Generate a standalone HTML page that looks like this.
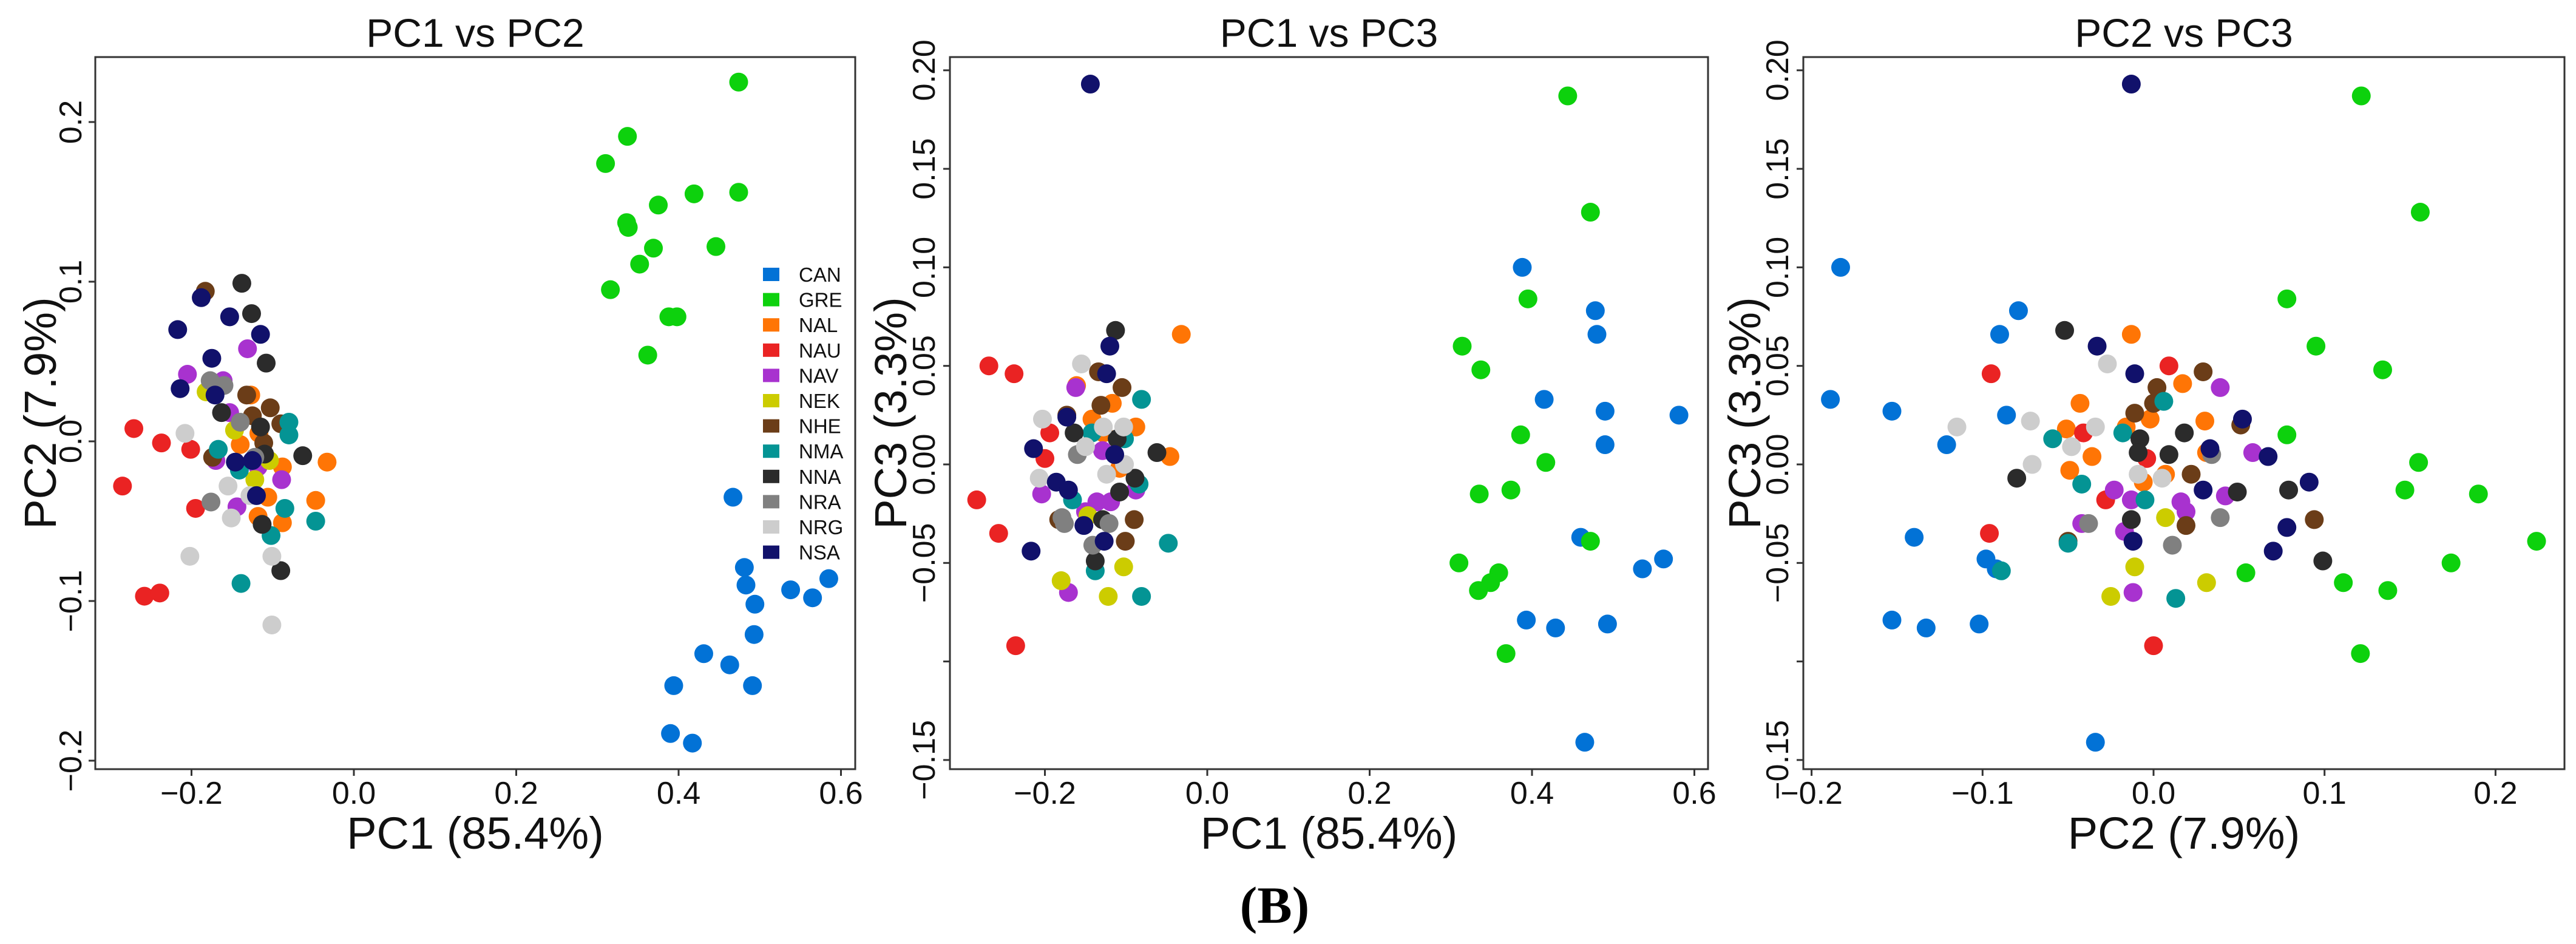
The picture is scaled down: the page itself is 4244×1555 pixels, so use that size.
<!DOCTYPE html>
<html><head><meta charset="utf-8">
<style>
html,body{margin:0;padding:0;background:#fff;}
svg{display:block;font-family:"Liberation Sans",Arial,sans-serif;}
</style></head>
<body>
<svg id="fig" width="4244" height="1555" viewBox="0 0 4244 1555" xmlns="http://www.w3.org/2000/svg">
<rect x="0" y="0" width="4244" height="1555" fill="#fff"/>
<text x="2100" y="1520" font-family="Liberation Serif,serif" font-weight="bold" font-size="86" text-anchor="middle">(B)</text>
</svg>
<script>
const groups = ["CAN","GRE","NAL","NAU","NAV","NEK","NHE","NMA","NNA","NRA","NRG","NSA"];
const groupColors = ["#0272d6","#0dd10d","#ff7505","#ea2323","#a832cf","#cccc00","#6b3d18","#049494","#2b2b2b","#808080","#cdcdcd","#11116b"];

// Panel 1: PC1 vs PC2
const p1x = [
 [0.467,0.481,0.483,0.538,0.565,0.585,0.494,0.493,0.431,0.463,0.394,0.491,0.390,0.417],
 [0.474,0.337,0.310,0.419,0.474,0.375,0.336,0.338,0.369,0.446,0.352,0.316,0.388,0.398,0.362],
 [-0.127,-0.140,-0.088,-0.033,-0.047,-0.106,-0.118,-0.088,-0.117],
 [-0.271,-0.237,-0.201,-0.285,-0.195,-0.258,-0.239],
 [-0.131,-0.205,-0.161,-0.153,-0.089,-0.144,-0.170,-0.118],
 [-0.182,-0.147,-0.122,-0.104],
 [-0.183,-0.132,-0.103,-0.090,-0.174,-0.111,-0.125],
 [-0.080,-0.080,-0.167,-0.141,-0.085,-0.047,-0.102,-0.139],
 [-0.138,-0.126,-0.108,-0.163,-0.115,-0.110,-0.063,-0.113,-0.090],
 [-0.177,-0.160,-0.140,-0.176,-0.122],
 [-0.208,-0.155,-0.151,-0.202,-0.101,-0.101,-0.128],
 [-0.188,-0.217,-0.153,-0.115,-0.175,-0.214,-0.171,-0.146,-0.125,-0.120]
];
const p1y = [
 [-0.035,-0.079,-0.090,-0.093,-0.098,-0.086,-0.102,-0.121,-0.133,-0.140,-0.153,-0.153,-0.183,-0.189],
 [0.225,0.191,0.174,0.155,0.156,0.148,0.137,0.134,0.121,0.122,0.111,0.095,0.078,0.078,0.054],
 [0.029,-0.002,-0.016,-0.013,-0.037,-0.035,-0.047,-0.051,0.005],
 [0.008,-0.001,-0.005,-0.028,-0.042,-0.097,-0.095],
 [0.058,0.042,0.038,0.018,-0.024,-0.041,-0.012,-0.016],
 [0.031,0.007,-0.024,-0.012],
 [0.094,0.029,0.021,0.011,-0.010,-0.001,0.016],
 [0.012,0.004,-0.005,-0.018,-0.042,-0.050,-0.059,-0.089],
 [0.099,0.080,0.049,0.018,0.009,-0.008,-0.009,-0.052,-0.081],
 [0.038,0.035,0.012,-0.038,-0.010],
 [0.005,-0.028,-0.048,-0.072,-0.072,-0.115,-0.034],
 [0.090,0.070,0.078,0.067,0.052,0.033,0.029,-0.013,-0.012,-0.034]
];

// Panel 2: PC1 vs PC3
const p2x = [
 [0.388,0.478,0.480,0.415,0.490,0.581,0.490,0.460,0.562,0.536,0.393,0.429,0.493,0.465],
 [0.444,0.472,0.395,0.314,0.337,0.386,0.417,0.335,0.374,0.472,0.310,0.359,0.349,0.334,0.368],
 [-0.032,-0.161,-0.117,-0.142,-0.088,-0.128,-0.046,-0.108],
 [-0.269,-0.238,-0.194,-0.200,-0.284,-0.257,-0.236],
 [-0.162,-0.129,-0.204,-0.136,-0.119,-0.150,-0.088,-0.171],
 [-0.147,-0.103,-0.180,-0.122],
 [-0.134,-0.105,-0.131,-0.173,-0.090,-0.101,-0.183],
 [-0.081,-0.142,-0.102,-0.166,-0.084,-0.048,-0.138,-0.081],
 [-0.113,-0.164,-0.111,-0.062,-0.089,-0.108,-0.129,-0.138],
 [-0.160,-0.179,-0.176,-0.141,-0.121],
 [-0.155,-0.203,-0.150,-0.207,-0.128,-0.103,-0.102,-0.124],
 [-0.144,-0.120,-0.124,-0.173,-0.214,-0.186,-0.171,-0.114,-0.152,-0.127,-0.217]
];
const p2y = [
 [0.100,0.078,0.066,0.033,0.027,0.025,0.010,-0.037,-0.048,-0.053,-0.079,-0.083,-0.081,-0.141],
 [0.187,0.128,0.084,0.060,0.048,0.015,0.001,-0.015,-0.013,-0.039,-0.050,-0.055,-0.060,-0.064,-0.096],
 [0.066,0.040,0.031,0.023,0.019,0.016,0.004,-0.002],
 [0.050,0.046,0.016,0.003,-0.018,-0.035,-0.092],
 [0.039,0.007,-0.015,-0.019,-0.019,-0.024,-0.013,-0.065],
 [-0.026,-0.052,-0.059,-0.067],
 [0.047,0.039,0.030,0.025,-0.028,-0.039,-0.028],
 [0.033,0.016,0.013,-0.018,-0.010,-0.040,-0.054,-0.067],
 [0.068,0.016,0.013,0.006,-0.007,-0.014,-0.028,-0.049],
 [0.005,-0.027,-0.030,-0.041,-0.030],
 [0.051,0.023,0.009,-0.007,0.019,0.019,0.000,-0.005],
 [0.193,0.060,0.046,0.024,0.008,-0.009,-0.013,0.005,-0.031,-0.039,-0.044]
];

// Panel 3: PC2 vs PC3
const p3x = [
 [-0.183,-0.079,-0.090,-0.189,-0.153,-0.086,-0.121,-0.140,-0.098,-0.092,-0.153,-0.133,-0.102,-0.034],
 [0.1215,0.156,0.078,0.095,0.134,0.078,0.155,0.147,0.190,0.224,0.174,0.054,0.111,0.137,0.121],
 [-0.013,0.017,-0.043,-0.002,0.030,-0.051,-0.016,-0.036,-0.049,-0.006,0.007,0.031],
 [0.009,-0.095,-0.041,-0.004,-0.028,-0.096,0.000],
 [0.039,0.058,-0.023,-0.013,0.016,0.042,0.019,-0.042,-0.017,-0.012],
 [0.007,-0.011,0.031,-0.025],
 [0.029,0.002,0.000,-0.011,0.051,0.022,0.094,0.019,-0.050],
 [0.006,-0.018,-0.059,-0.042,-0.005,-0.089,0.013,-0.050],
 [-0.052,-0.008,-0.009,0.009,0.018,-0.080,0.049,0.079,-0.013,0.099],
 [0.034,-0.038,0.039,0.011],
 [-0.027,-0.115,-0.072,-0.034,-0.048,-0.071,-0.009,0.005],
 [-0.013,-0.033,-0.011,0.052,0.033,0.067,0.091,0.029,0.078,0.070,-0.012]
];
const p3y = [
 [0.100,0.078,0.066,0.033,0.027,0.025,0.010,-0.037,-0.048,-0.053,-0.079,-0.083,-0.081,-0.141],
 [0.187,0.128,0.084,0.060,0.048,0.015,0.001,-0.013,-0.015,-0.039,-0.050,-0.055,-0.060,-0.064,-0.096],
 [0.066,0.041,0.031,0.023,0.022,0.018,0.019,0.004,-0.003,-0.009,-0.005,0.006],
 [0.050,0.046,0.016,0.003,-0.018,-0.035,-0.092],
 [0.039,0.006,-0.013,-0.018,-0.019,-0.016,-0.024,-0.030,-0.034,-0.065],
 [-0.027,-0.052,-0.060,-0.067],
 [0.047,0.039,0.031,0.026,0.020,-0.005,-0.028,-0.031,-0.039],
 [0.032,0.016,0.013,-0.010,-0.018,-0.054,-0.068,-0.040],
 [0.068,0.013,0.006,0.005,0.016,-0.007,-0.014,-0.013,-0.028,-0.049],
 [0.005,-0.030,-0.027,-0.041],
 [0.051,0.019,0.022,0.019,0.009,0.000,-0.005,-0.007],
 [0.193,0.060,0.046,0.023,0.008,0.004,-0.009,-0.013,-0.032,-0.044,-0.039]
];

// tick values & labels
const p1xTicks = [-0.2,0.0,0.2,0.4,0.6];
const p1xLabels = ["\u22120.2","0.0","0.2","0.4","0.6"];
const p1yTicks = [0.2,0.1,0.0,-0.1,-0.2];
const p1yLabels = ["0.2","0.1","0.0","\u22120.1","\u22120.2"];
const p2xTicks = [-0.2,0.0,0.2,0.4,0.6];
const p2xLabels = ["\u22120.2","0.0","0.2","0.4","0.6"];
const p3xTicks = [-0.2,-0.1,0.0,0.1,0.2];
const p3xLabels = ["\u22120.2","\u22120.1","0.0","0.1","0.2"];
const pc3Ticks = [0.20,0.15,0.10,0.05,0.00,-0.05,-0.10,-0.15];
const pc3Labels = ["0.20","0.15","0.10","0.05","0.00","\u22120.05","","\u22120.15"];

const NS="http://www.w3.org/2000/svg";
const svg=document.getElementById('fig');
function mk(tag,attrs,parent){const e=document.createElementNS(NS,tag);for(const k in attrs)e.setAttribute(k,attrs[k]);(parent||svg).appendChild(e);return e;}

function panel(cfg){
  const g=mk('g',{});
  
  
  const sx=v=>cfg.x0+v*cfg.kx;
  const sy=v=>cfg.y0-v*cfg.ky;
  // points
  const pts=mk('g',{},g);
  
  
  groups.forEach((gr,gi)=>{
    const xs=cfg.xs[gi], ys=cfg.ys[gi];
    for(let i=0;i<xs.length;i++){
      const c=mk('ellipse',{cx:sx(xs[i]),cy:sy(ys[i]),rx:15.5,ry:15.5,fill:groupColors[gi]},pts);
      
      
    }
  });
  // frame
  const fr=mk('rect',{x:cfg.L,y:cfg.T,width:cfg.R-cfg.L,height:cfg.B-cfg.T,fill:'none',stroke:'#333',"stroke-width":3},g);
  
  
  // x ticks
  const xa=mk('g',{},g);
  
  
  cfg.xt.forEach((v,i)=>{
    const x=sx(v);
    mk('line',{x1:x,x2:x,y1:cfg.B,y2:cfg.B+11,stroke:'#333',"stroke-width":3},xa);
    const t=mk('text',{x:x,y:1324,"font-size":52,"text-anchor":"middle",fill:'#111'},xa);
    
    
    t.textContent=cfg.xl[i];
  });
  // y ticks
  const ya=mk('g',{},g);
  
  
  cfg.yt.forEach((v,i)=>{
    const y=sy(v);
    mk('line',{x1:cfg.L-11,x2:cfg.L,y1:y,y2:y,stroke:'#333',"stroke-width":3},ya);
    if(cfg.yl[i]){
      const t=mk('text',{x:cfg.ytx,y:y,"font-size":52,"text-anchor":"middle",fill:'#111',transform:`rotate(-90 ${cfg.ytx} ${y})`},ya);
      
      
      t.textContent=cfg.yl[i];
    }
  });
  const cx=(cfg.L+cfg.R)/2, cy=(cfg.T+cfg.B)/2;
  const tt=mk('text',{x:cx,y:77,"font-size":66,"text-anchor":"middle",fill:'#111'},g);
  
  
  tt.textContent=cfg.title;
  const xt=mk('text',{x:cx,y:1398,"font-size":74,"text-anchor":"middle",fill:'#111'},g);
  
  
  xt.textContent=cfg.xtitle;
  const yt=mk('text',{x:cfg.ytt,y:cy,"font-size":74,"text-anchor":"middle",fill:'#111',transform:`rotate(-90 ${cfg.ytt} ${cy})`},g);
  
  
  yt.textContent=cfg.ytitle;
}

panel({name:'panel-pc1-vs-pc2',L:157,R:1409,T:94,B:1267,x0:583,kx:1337.5,y0:727,ky:2630,
  xs:p1x,ys:p1y,xt:p1xTicks,xl:p1xLabels,yt:p1yTicks,yl:p1yLabels,ytx:134,ytt:92,
  title:'PC1 vs PC2',xtitle:'PC1 (85.4%)',ytitle:'PC2 (7.9%)'});
panel({name:'panel-pc1-vs-pc3',L:1565,R:2814,T:94,B:1267,x0:1989,kx:1337.5,y0:765,ky:3246,
  xs:p2x,ys:p2y,xt:p2xTicks,xl:p2xLabels,yt:pc3Ticks,yl:pc3Labels,ytx:1540,ytt:1493,
  title:'PC1 vs PC3',xtitle:'PC1 (85.4%)',ytitle:'PC3 (3.3%)'});
panel({name:'panel-pc2-vs-pc3',L:2971,R:4225,T:94,B:1267,x0:3548,kx:2817,y0:765,ky:3246,
  xs:p3x,ys:p3y,xt:p3xTicks,xl:p3xLabels,yt:pc3Ticks,yl:pc3Labels,ytx:2946,ytt:2900,
  title:'PC2 vs PC3',xtitle:'PC2 (7.9%)',ytitle:'PC3 (3.3%)'});

// legend
const lg=mk('g',{});


groups.forEach((gr,i)=>{
  const y=452+i*41.6;
  const e=mk('g',{},lg);
  
  
  mk('rect',{x:1257,y:y-11,width:27,height:22,fill:groupColors[i]},e);
  const t=mk('text',{x:1316,y:y+12,"font-size":33,fill:'#111'},e);
  t.textContent=gr;
});
</script>
</body></html>
